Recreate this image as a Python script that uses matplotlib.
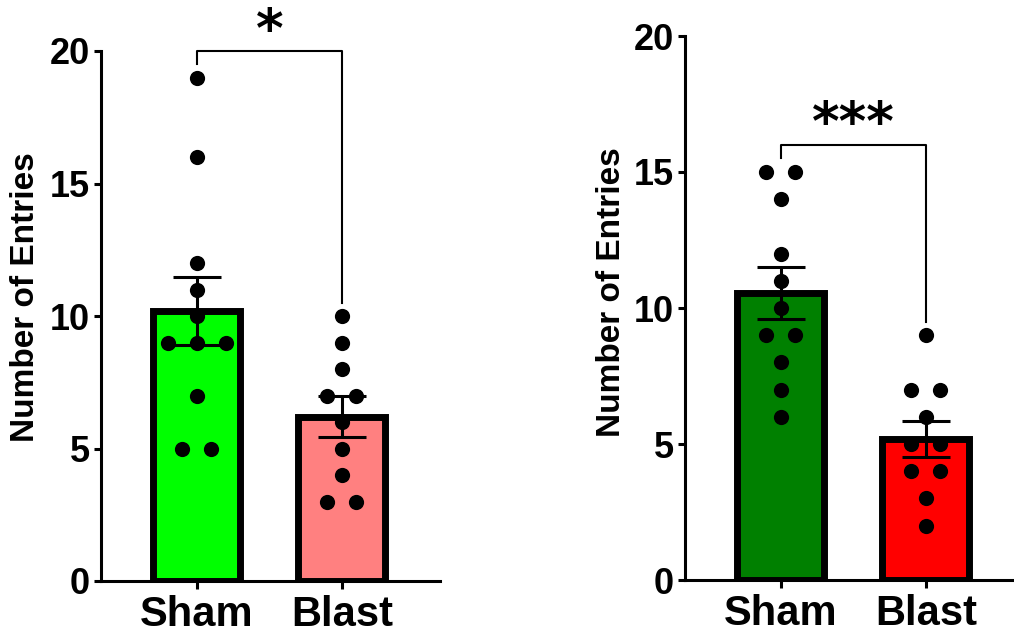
import numpy as np
import matplotlib
matplotlib.use("Agg")
import matplotlib.pyplot as plt

plt.rcParams['font.family'] = ['Liberation Sans', 'DejaVu Sans']
plt.rcParams['font.weight'] = 'bold'

groups = ['Sham', 'Blast']

# left panel
left_sham = [19, 16, 12, 11, 10, 9, 9, 9, 7, 5, 5]
left_blast = [10, 9, 8, 7, 7, 6, 5, 4, 3, 3]
left_colors = ['#00ff00', '#ff8080']
left_star = '*'

# right panel
right_sham = [15, 15, 14, 12, 11, 10, 9, 9, 8, 7, 6]
right_blast = [9, 7, 7, 6, 5, 5, 4, 4, 3, 2]
right_colors = ['#008000', '#ff0000']
right_star = '***'

W, H = 1014, 635
fig = plt.figure(figsize=(W / 100, H / 100), dpi=100)


def swarm_offsets(vals, step=0.2):
    vals = np.asarray(vals, dtype=float)
    off = np.zeros(len(vals))
    for v in np.unique(vals):
        idx = np.where(vals == v)[0]
        k = len(idx)
        off[idx] = (np.arange(k) - (k - 1) / 2) * step
    return off


def panel(rect, data, colors, star, label_xy):
    ax = fig.add_axes(rect)
    for i, vals in enumerate(data):
        vals = np.asarray(vals, dtype=float)
        m = vals.mean()
        sem = vals.std(ddof=1) / np.sqrt(len(vals))
        ax.bar(i, m, width=0.6, color=colors[i], edgecolor='black',
               linewidth=5, zorder=1)
        ax.errorbar(i, m, yerr=sem, color='black', elinewidth=2.2,
                    capsize=17, capthick=2.2, zorder=3)
        ax.scatter(i + swarm_offsets(vals), vals, s=120, color='black',
                   zorder=4, linewidths=0)
    # significance bracket
    top = max(max(data[0]), max(data[1])) + 1
    ax.plot([0, 0, 1, 1], [max(data[0]) + 0.5, top, top, max(data[1]) + 0.5],
            color='black', lw=1.5, clip_on=False, zorder=5)
    ax.annotate(star, xy=(0.5, top), xytext=(0, 14), textcoords='offset points',
                ha='center', va='center', fontsize=38, fontweight='bold',
                family='DejaVu Sans', annotation_clip=False)

    ax.set_xlim(-0.662, 1.676)
    ax.set_ylim(0, 20)
    ax.set_yticks([0, 5, 10, 15, 20])
    ax.set_xticks([0, 1])
    ax.set_xticklabels(groups, fontsize=30, fontweight='bold')
    ax.tick_params(axis='y', labelsize=26, width=2.2, length=5, pad=3)
    ax.tick_params(axis='x', width=2.2, length=6, pad=4)
    for t in ax.get_yticklabels():
        t.set_fontweight('bold')
    ax.spines['top'].set_visible(False)
    ax.spines['right'].set_visible(False)
    ax.spines['left'].set_linewidth(2.2)
    ax.spines['bottom'].set_linewidth(2.2)
    ax.set_ylabel('Number of Entries', fontsize=24, fontweight='bold', va='center')
    ax.yaxis.set_label_coords(*label_xy)
    return ax


panel([101 / W, (H - 581) / H, 339 / W, 530 / H],
      [left_sham, left_blast], left_colors, left_star, (-0.224, 0.536))
panel([685 / W, (H - 580) / H, 339 / W, 544 / H],
      [right_sham, right_blast], right_colors, right_star, (-0.218, 0.529))

fig.savefig('out.png', dpi=100)
